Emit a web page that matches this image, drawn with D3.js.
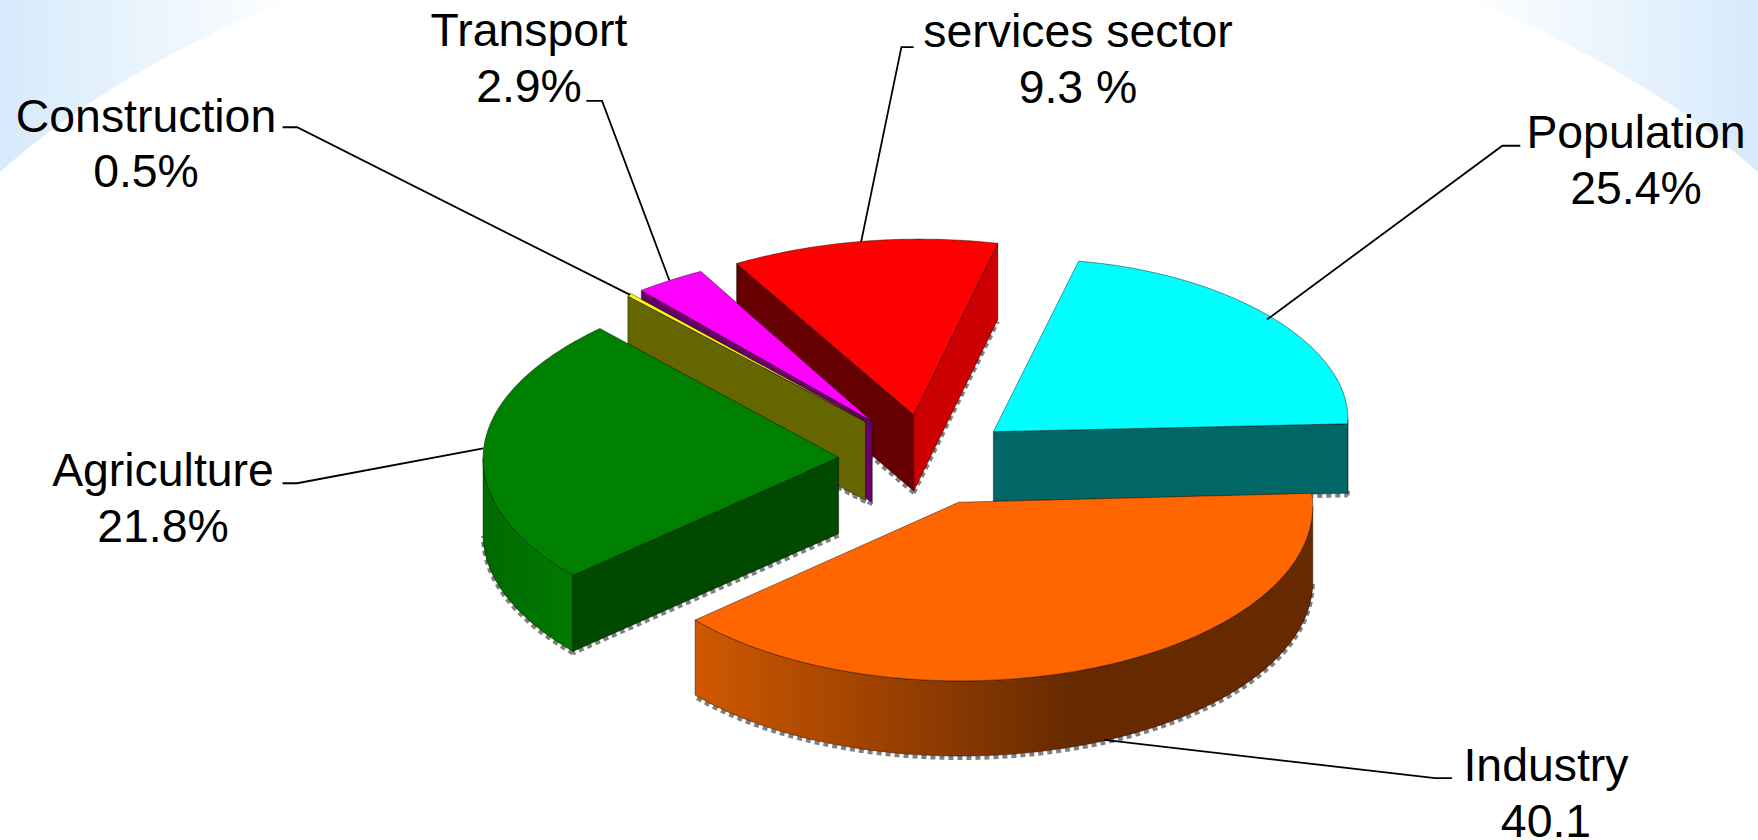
<!DOCTYPE html>
<html>
<head>
<meta charset="utf-8">
<script src="https://cdnjs.cloudflare.com/ajax/libs/d3/7.8.5/d3.min.js"></script>
<style>
html,body{margin:0;padding:0;background:#fff;overflow:hidden}
svg{display:block}
text{font-family:"Liberation Sans",Arial,sans-serif;font-size:46.4px;fill:#000;text-anchor:middle}
</style>
</head>
<body>
<svg id="chart" width="1758" height="840"></svg>
<script>
// ---- data ----
const categories = ["Population","Industry","Agriculture","Construction","Transport","services sector"];
const values = [25.4,40.1,21.8,0.5,2.9,9.3];
const valueLabels = ["25.4%","40.1","21.8%","0.5%","2.9%","9.3 %"];

// ---- styles ----
const topColors  = ["#00ffff","#ff6600","#008000","#ffff00","#ff00ff","#ff0000"];
const startFace  = ["#006666","#662900","#004a00","#666600","#660066","#660000"];
const endFace    = ["#006666","#662900","#004a00","#666600","#660066","#cc0000"];
const rimFrom    = ["#006666","#d05800","#006a00","#666600","#660066","#990000"];
const rimTo      = ["#006666","#662900","#007a00","#666600","#660066","#990000"];

// ---- layout (projected pie view per exploded slice, in 1568-wide reference units) ----
const u = 1758/1568;
const views = [
 {apex:[886,385],rimStart:[962,233],rimEnd:[1202,378],bulge:.63,depth:62,gradX:[886,1202]},
 {apex:[855,448],rimStart:[1170,440],rimEnd:[620,553],bulge:.9,depth:67,gradX:[620,960]},
 {apex:[748,408],rimStart:[511,513],rimEnd:[535,293],bulge:1.4,depth:68,gradX:[432,511]},
 {apex:[772,376],rimStart:[560,264],rimEnd:[562,261.5],bulge:1,depth:70,gradX:[560,772]},
 {apex:[778,376],rimStart:[572,259],rimEnd:[625,242],bulge:1,depth:72,gradX:[572,778]},
 {apex:[815,370],rimStart:[657,235],rimEnd:[890,217],bulge:1.7,depth:68,gradX:[657,890]}
];
const paintOrder = [5,4,3,2,0,1];
const labelLayout = [
 {x:1636,y:148,pts:[[1356,130],[1340,130],[1130,285]]},
 {x:1546,y:781,pts:[[1295,694],[1280,694],[985,660]]},
 {x:163,y:486,pts:[[252,431],[265,431],[431,400]]},
 {x:146,y:131.5,pts:[[252,113.5],[265,113.5],[562,263]]},
 {x:529,y:46,pts:[[523,90],[537,90],[597,250]]},
 {x:1078,y:47,pts:[[815,42],[804,42],[768,216]]}
];

const svg = d3.select("#chart");
const defs = svg.append("defs");

// ---- background ----
const bg = defs.append("linearGradient").attr("id","bg").attr("x1",0).attr("x2",1).attr("y1",0).attr("y2",0);
[[0,"#d6eafb"],[.17,"#ffffff"],[.83,"#ffffff"],[1,"#d6eafb"]].forEach(s=>bg.append("stop").attr("offset",s[0]).attr("stop-color",s[1]));
svg.append("rect").attr("width",1758).attr("height",320).attr("fill","url(#bg)");
svg.append("ellipse").attr("cx",879).attr("cy",500).attr("rx",1046).attr("ry",605).attr("fill","#fff");

// ---- pie ----
const arcs = d3.pie().sort(null)(values);
const line = d3.line();
const n = 96;

function rimPoints(i){
  const v = views[i], a = arcs[i];
  const span = a.endAngle - a.startAngle, h = span/2;
  const A = v.apex.map(c=>c*u);
  const S = v.rimStart.map((c,j)=>c*u-A[j]);
  const E = v.rimEnd.map((c,j)=>c*u-A[j]);
  const M = [(S[0]+E[0])/2,(S[1]+E[1])/2];
  const D = [(E[0]-S[0])/2,(E[1]-S[1])/2];
  const c = Math.cos(h);
  const N = M.map(m=>m*(1/c-1)*v.bulge);
  return d3.range(n+1).map(t=>{
    const ang = a.startAngle + span*t/n;
    const f = ang - (a.startAngle+a.endAngle)/2;
    const w = (Math.cos(f)-c)/(1-c), q = Math.sin(f)/Math.sin(h);
    return [A[0]+M[0]+D[0]*q+N[0]*w, A[1]+M[1]+D[1]*q+N[1]*w];
  });
}
function drop(p,d){return [p[0],p[1]+d];}

const edge = {stroke:"#000","stroke-opacity":.55,"stroke-width":.8,"stroke-linejoin":"round"};
function face(g,pts,fill){
  const s = g.append("path").attr("d",line(pts)+"Z").attr("fill",fill);
  Object.entries(edge).forEach(([k,val])=>s.attr(k,val));
}
function shadow(g,pts){
  g.append("path").attr("d",line(pts)).attr("fill","none")
   .attr("stroke","#808080").attr("stroke-width",4).attr("stroke-dasharray","5 4");
}

const pie = svg.append("g");
paintOrder.forEach(i=>{
  const v = views[i], d = v.depth*u;
  const A = v.apex.map(c=>c*u);
  const rim = rimPoints(i);
  const g = pie.append("g").attr("class","slice").datum(arcs[i]);
  const grad = defs.append("linearGradient").attr("id","rim"+i)
     .attr("gradientUnits","userSpaceOnUse")
     .attr("x1",v.gradX[0]*u).attr("x2",v.gradX[1]*u).attr("y1",0).attr("y2",0);
  grad.append("stop").attr("offset",0).attr("stop-color",rimFrom[i]);
  grad.append("stop").attr("offset",1).attr("stop-color",rimTo[i]);

  const S = rim[0], E = rim[n];
  // a radial wall shows when the rest of the slice lies above that edge
  const above = (P,Q)=>{
    const vx=P[0]-A[0], vy=P[1]-A[1], wx=Q[0]-A[0], wy=Q[1]-A[1];
    return (wy-(vy/vx)*wx)<0;
  };
  const walls = [];
  if(above(S,E)) walls.push([S,startFace[i]]);
  if(above(E,S)) walls.push([E,endFace[i]]);
  walls.forEach(([P])=>shadow(g,[drop(A,d+2),drop(P,d+2)]));

  // outer wall: only where the rim runs right to left (facing the viewer)
  const lower = rim.filter((p,j)=>(j<n && rim[j+1][0]<p[0]) || (j>0 && p[0]<rim[j-1][0]));
  if(lower.length>1){
    shadow(g,lower.map(p=>drop(p,d+2)));
    const band = lower.concat(lower.slice().reverse().map(p=>drop(p,d)));
    face(g,band,"url(#rim"+i+")");
  }
  walls.forEach(([P,col])=>face(g,[A,P,drop(P,d),drop(A,d)],col));
  face(g,[A].concat(rim),topColors[i]);
});

// ---- labels ----
const labels = svg.append("g");
categories.forEach((name,i)=>{
  const l = labelLayout[i];
  labels.append("path").attr("d",line(l.pts.map(p=>[p[0]*u,p[1]*u])))
    .attr("fill","none").attr("stroke","#000").attr("stroke-width",1.8);
  labels.append("text").attr("x",l.x).attr("y",l.y).text(name);
  labels.append("text").attr("x",l.x).attr("y",l.y+55.5).text(valueLabels[i]);
});
</script>
</body>
</html>
